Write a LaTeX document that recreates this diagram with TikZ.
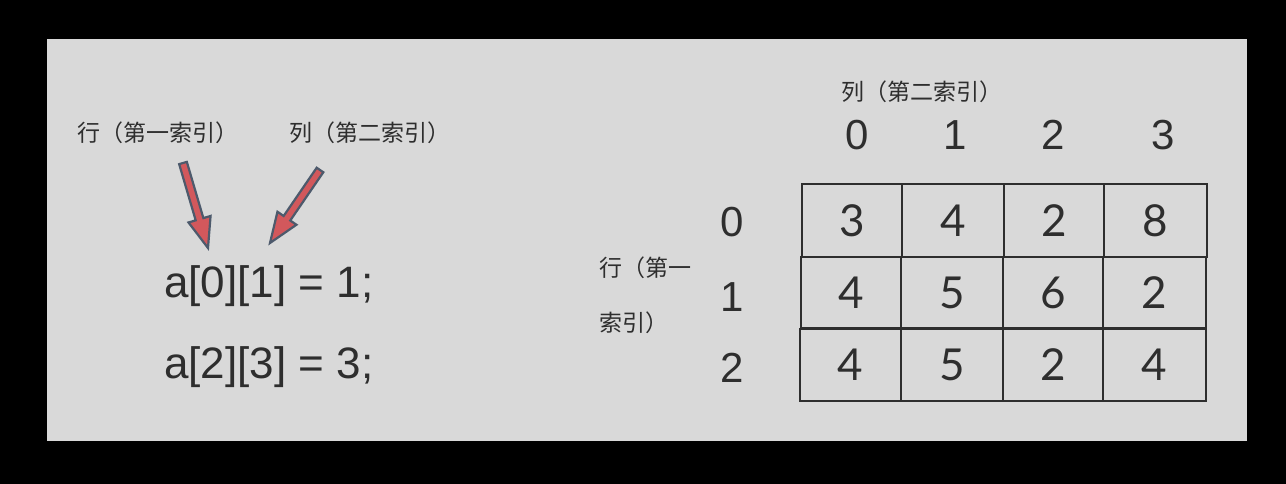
\documentclass[tikz,border=0pt]{standalone}
\usepackage{fontspec}
\usetikzlibrary{calc}
\newfontfamily\cjk{Noto Sans CJK SC}
\newfontfamily\arialf{Liberation Sans}
\newfontfamily\gillf{Lato}
\definecolor{bggray}{HTML}{D9D9D9}
\definecolor{txt}{HTML}{2E2E2E}
\definecolor{arrred}{HTML}{D2585C}
\definecolor{arrline}{HTML}{4D5A6C}
\tikzset{
  cjklab/.style={inner sep=0pt, anchor=west, text=txt, font=\cjk\fontsize{23}{26}\selectfont},
  codetxt/.style={inner sep=0pt, anchor=base west, text=txt, font=\arialf\fontsize{44}{50}\selectfont},
  idx/.style={inner sep=0pt, text=txt, font=\arialf\fontsize{42}{48}\selectfont},
  cell/.style={draw=txt, line width=2pt, inner sep=0pt, text=txt, font=\gillf\fontsize{44}{50}\selectfont},
  blockarrow/.style={fill=arrred, draw=arrline, line width=2.2pt, line join=miter}
}
\newcommand\mkarrow[3]{%
  \coordinate (#3) at ($(#2)!30pt!(#1)$);
  \draw[blockarrow] ($(#1)!4pt!90:(#2)$) -- ($(#3)!4pt!90:(#2)$) -- ($(#3)!11.5pt!90:(#2)$) -- (#2)
     -- ($(#3)!11.5pt!-90:(#2)$) -- ($(#3)!4pt!-90:(#2)$) -- ($(#1)!4pt!-90:(#2)$) -- cycle;}
\begin{document}
\begin{tikzpicture}[x=1pt,y=-1pt]
\useasboundingbox (0,0) rectangle (1286,484);
\fill[black] (0,0) rectangle (1286,484);
\fill[bggray] (47,39) rectangle (1247,441);

% left part
\node[cjklab] (lab1) at (77,133) {行（第一索引）};
\node[cjklab] (lab2) at (289,133) {列（第二索引）};
\node[codetxt] (code1) at (164,297) {a[0][1] = 1;};
\node[codetxt] (code2) at (164,378) {a[2][3] = 3;};

\coordinate (t1) at (183,163); \coordinate (h1) at (208,248);
\coordinate (t2) at (320,170); \coordinate (h2) at (270,243);
\mkarrow{t1}{h1}{b1}
\mkarrow{t2}{h2}{b2}

% right part
\node[cjklab] (colt) at (841,92) {列（第二索引）};
\node[cjklab] (rowt1) at (599,268) {行（第一};
\node[cjklab] (rowt2) at (599,323) {索引）};

\node[idx] (c0) at (857,135) {0};
\node[idx] (c1) at (955,135) {1};
\node[idx] (c2) at (1053,135) {2};
\node[idx] (c3) at (1163,135) {3};
\node[idx] (r0) at (732,222) {0};
\node[idx] (r1) at (732,297) {1};
\node[idx] (r2) at (732,368) {2};

% row 0
\node[cell, minimum width=100pt, minimum height=73pt] (m00) at (852,220.5) {3};
\node[cell, minimum width=102pt, minimum height=73pt] (m01) at (953,220.5) {4};
\node[cell, minimum width=100pt, minimum height=73pt] (m02) at (1054,220.5) {2};
\node[cell, minimum width=103pt, minimum height=73pt] (m03) at (1155.5,220.5) {8};
% row 1
\node[cell, minimum width=100pt, minimum height=71pt] (m10) at (851,292.5) {4};
\node[cell, minimum width=102pt, minimum height=71pt] (m11) at (952,292.5) {5};
\node[cell, minimum width=100pt, minimum height=71pt] (m12) at (1053,292.5) {6};
\node[cell, minimum width=103pt, minimum height=71pt] (m13) at (1154.5,292.5) {2};
% row 2
\node[cell, minimum width=101pt, minimum height=72pt] (m20) at (850.5,365) {4};
\node[cell, minimum width=102pt, minimum height=72pt] (m21) at (952,365) {5};
\node[cell, minimum width=100pt, minimum height=72pt] (m22) at (1053,365) {2};
\node[cell, minimum width=103pt, minimum height=72pt] (m23) at (1154.5,365) {4};
\end{tikzpicture}
\end{document}
